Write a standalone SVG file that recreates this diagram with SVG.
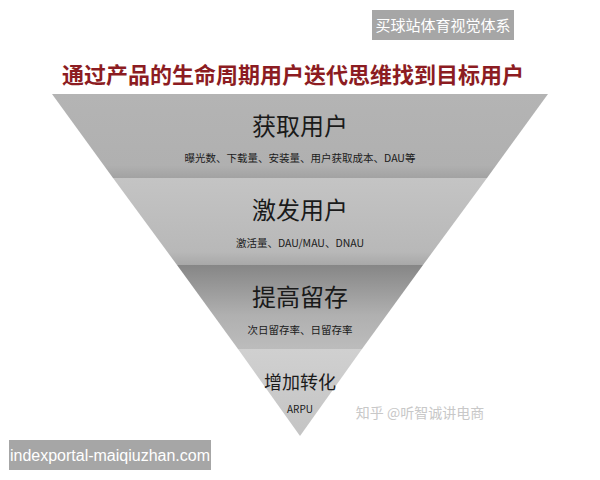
<svg xmlns="http://www.w3.org/2000/svg" width="600" height="480" viewBox="0 0 600 480">
<defs>
<linearGradient id="g1" x1="0" y1="0" x2="0" y2="1"><stop offset="0" stop-color="#b4b4b4"/><stop offset="0.85" stop-color="#b0b0b0"/><stop offset="1" stop-color="#a2a2a2"/></linearGradient>
<linearGradient id="g2" x1="0" y1="0" x2="0" y2="1"><stop offset="0" stop-color="#c4c4c4"/><stop offset="0.85" stop-color="#b8b8b8"/><stop offset="1" stop-color="#a8a8a8"/></linearGradient>
<linearGradient id="g3" x1="0" y1="0" x2="0" y2="1"><stop offset="0" stop-color="#868686"/><stop offset="0.6" stop-color="#b0b0b0"/><stop offset="1" stop-color="#bcbcbc"/></linearGradient>
<linearGradient id="g4" x1="0" y1="0" x2="0" y2="1"><stop offset="0" stop-color="#d0d0d0"/><stop offset="1" stop-color="#c4c4c4"/></linearGradient>
</defs>
<style>
.cjk{font-family:"Noto Sans CJK SC","Liberation Sans",sans-serif}
.h{font-size:24px;fill:#1a1a1a;text-anchor:middle}
.s{font-size:10.5px;fill:#1a1a1a;text-anchor:middle}
</style>
<rect width="600" height="480" fill="#ffffff"/>
<g id="watermark-top">
<rect x="372" y="10" width="142" height="30" fill="#a6a6a6"/>
<text x="443" y="31" class="cjk" font-size="15" fill="#ffffff" text-anchor="middle">买球站体育视觉体系</text>
</g>
<text id="title" x="293" y="83" class="cjk" font-size="22" font-weight="bold" fill="#8c1c22" text-anchor="middle">通过产品的生命周期用户迭代思维找到目标用户</text>
<g id="band1">
<polygon points="52,94 548,94 487,178 113,178" fill="url(#g1)"/>
<text x="300" y="135" class="cjk h">获取用户</text>
<text x="300" y="162" class="cjk s">曝光数、下载量、安装量、用户获取成本、DAU等</text>
</g>
<g id="band2">
<polygon points="113,178 487,178 423,265 177,265" fill="url(#g2)"/>
<text x="300" y="219" class="cjk h">激发用户</text>
<text x="300" y="247" class="cjk s">激活量、DAU/MAU、DNAU</text>
</g>
<g id="band3">
<polygon points="177,265 423,265 362,349 238,349" fill="url(#g3)"/>
<text x="300" y="306" class="cjk h">提高留存</text>
<text x="300" y="334" class="cjk s">次日留存率、日留存率</text>
</g>
<g id="band4">
<polygon points="238,349 362,349 300,436" fill="url(#g4)"/>
<text x="300" y="389" class="cjk" font-size="18" fill="#1a1a1a" text-anchor="middle">增加转化</text>
<text x="300" y="413" class="cjk" font-size="10" fill="#1a1a1a" text-anchor="middle">ARPU</text>
</g>
<text id="zhihu" x="420" y="418" class="cjk" font-size="14" fill="#c8c8c8" text-anchor="middle">知乎 @听智诚讲电商</text>
<g id="watermark-bottom">
<rect x="9" y="440" width="202" height="30" fill="#a6a6a6"/>
<text x="110" y="461" font-family="Liberation Sans,sans-serif" font-size="16" fill="#ffffff" text-anchor="middle">indexportal-maiqiuzhan.com</text>
</g>
</svg>
